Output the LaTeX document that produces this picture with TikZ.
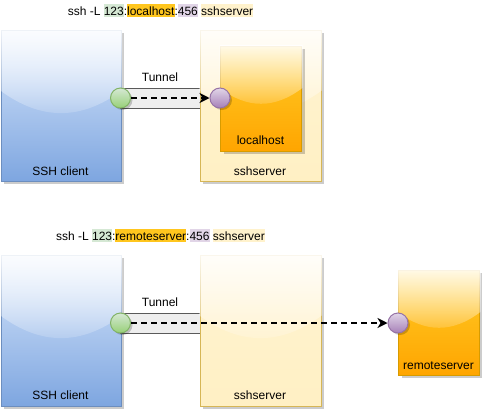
\documentclass[tikz,border=0pt]{standalone}
\usepackage{fontspec}
\setmainfont{Liberation Sans}
\usetikzlibrary{shadows,fadings,arrows.meta,calc}

\definecolor{bluetop}{HTML}{DAE8FC}
\definecolor{bluebot}{HTML}{7EA6E0}
\definecolor{blueline}{HTML}{6C8EBF}
\definecolor{yeltop}{HTML}{FFF4D2}
\definecolor{yelbot}{HTML}{FFF0C4}
\definecolor{yelline}{HTML}{D6B656}
\definecolor{orgtop}{HTML}{FFCD28}
\definecolor{orgbot}{HTML}{FFA500}
\definecolor{orgline}{HTML}{D79B00}
\definecolor{grntop}{HTML}{D5E8D4}
\definecolor{grnbot}{HTML}{97D077}
\definecolor{grnline}{HTML}{82B366}
\definecolor{purtop}{HTML}{E1D5E7}
\definecolor{purbot}{HTML}{A680B8}
\definecolor{purline}{HTML}{9673A6}
\definecolor{tunfill}{HTML}{EEEEEE}
\definecolor{tunline}{HTML}{5A5A5A}
\definecolor{hlgreen}{HTML}{D5E8D4}
\definecolor{hlorange}{HTML}{FFC61E}
\definecolor{hlpurple}{HTML}{E1D5E7}
\definecolor{hlyellow}{HTML}{FFF2CC}

\tikzfading[name=glassfade, top color=transparent!10, bottom color=transparent!90]

\newcommand\hlbox[2]{{\setlength{\fboxsep}{0pt}\colorbox{#1}{\vrule height 11pt depth 2pt width 0pt #2}}}

\newcommand\glassfx[1]{%
  \fill[white, path fading=glassfade] let \p1=(#1.north west), \p2=(#1.south east) in
  ({\x1-0.5pt},{\y1+0.5pt}) -- ({\x2+0.5pt},{\y1+0.5pt}) -- ({\x2+0.5pt},{\y1+0.4*(\y2-\y1)})
  .. controls ({\x1+0.6667*(\x2-\x1)},{\y1+0.6*(\y2-\y1)}) and ({\x1+0.3333*(\x2-\x1)},{\y1+0.6*(\y2-\y1)})
  .. ({\x1-0.5pt},{\y1+0.4*(\y2-\y1)}) -- cycle;}

\tikzset{
  box/.style={rectangle, draw, line width=1pt, inner sep=0pt, anchor=north west,
    drop shadow={shadow xshift=3pt, shadow yshift=-3pt, opacity=0.2, fill=black}},
  clientbox/.style={box, draw=blueline, top color=bluetop, bottom color=bluebot,
    minimum width=120pt, minimum height=151pt},
  serverbox/.style={box, draw=yelline, top color=yeltop, bottom color=yelbot,
    minimum width=121pt, minimum height=151pt},
  hostbox/.style={box, draw=orgline, top color=orgtop, bottom color=orgbot,
    minimum width=81pt, minimum height=105pt},
  port/.style={circle, line width=1pt, inner sep=0pt, minimum size=20pt,
    drop shadow={shadow xshift=2pt, shadow yshift=-2pt, opacity=0.2, fill=black}},
  srcport/.style={port, draw=grnline, top color=grntop, bottom color=grnbot},
  dstport/.style={port, draw=purline, top color=purtop, bottom color=purbot},
  tunnelbox/.style={rectangle, draw=tunline, fill=tunfill, line width=1pt, inner sep=0pt,
    anchor=west, minimum width=80pt, minimum height=20pt},
  lbl/.style={inner sep=0pt, anchor=base},
  flow/.style={line width=2pt, dash pattern=on 6pt off 4pt, -{Stealth[length=10pt,width=10pt,inset=3pt]}}
}

\begin{document}
\begin{tikzpicture}[x=1pt, y=-1pt, font=\fontsize{12pt}{14pt}\selectfont]
\useasboundingbox (0,0) rectangle (482,410);

% ---------- top: local forwarding to localhost ----------
\node[lbl] (title1) at (160.5,15) {ssh -L \hlbox{hlgreen}{123}:\hlbox{hlorange}{localhost}:\hlbox{hlpurple}{456} \hlbox{hlyellow}{sshserver}};

\node[clientbox] (cli1) at (0.5,29.5) {};
\glassfx{cli1}
\node[tunnelbox] (tun1) at (120,98) {};
\node[serverbox] (srv1) at (199.5,29.5) {};
\glassfx{srv1}
\node[hostbox] (loc1) at (220,45.5) {};
\glassfx{loc1}

\node[lbl] (tcli1) at (60.5,175) {SSH client};
\node[lbl] (tsrv1) at (260,175) {sshserver};
\node[lbl] (tloc1) at (260.5,144) {localhost};
\node[lbl] (ttun1) at (160,81) {Tunnel};

\node[srcport] (g1) at (120.5,98) {};
\node[dstport] (p1) at (220,98) {};
\draw[flow] (g1.east) -- (p1.west);

% ---------- bottom: forwarding to remoteserver ----------
\node[lbl] (title2) at (160.5,240) {ssh -L \hlbox{hlgreen}{123}:\hlbox{hlorange}{remoteserver}:\hlbox{hlpurple}{456} \hlbox{hlyellow}{sshserver}};

\node[clientbox] (cli2) at (0.5,254.5) {};
\glassfx{cli2}
\node[tunnelbox] (tun2) at (120,323) {};
\node[serverbox] (srv2) at (199.5,254.5) {};
\glassfx{srv2}
\node[hostbox] (rem2) at (398,269.5) {};
\glassfx{rem2}

\node[lbl] (tcli2) at (60.5,399.5) {SSH client};
\node[lbl] (tsrv2) at (260,399.5) {sshserver};
\node[lbl] (trem2) at (438.5,369) {remoteserver};
\node[lbl] (ttun2) at (160,306) {Tunnel};

\node[srcport] (g2) at (120.5,323) {};
\node[dstport] (p2) at (398,323) {};
\draw[flow] (g2.east) -- (p2.west);
\end{tikzpicture}
\end{document}
